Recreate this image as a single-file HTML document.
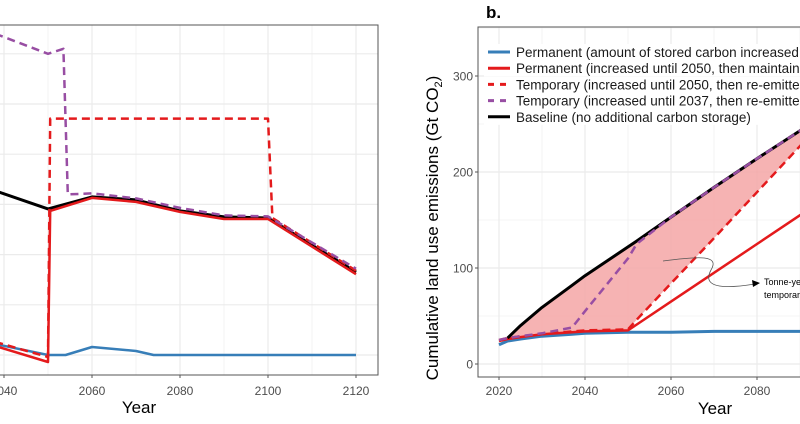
<!DOCTYPE html>
<html><head><meta charset="utf-8"><style>
body{margin:0;background:#fff;width:800px;height:419px;overflow:hidden}
svg{font-family:"Liberation Sans",sans-serif}
</style></head><body>
<svg id="s" width="800" height="419">
<g id="pa"></g>
<g id="pb"></g>
</svg>
<script>
// Panel a data (relative units, gridline spacing = 1)
const aBlueX=[2038,2050,2054,2060,2070,2074,2120];
const aBlueY=[0.22,0,0,0.16,0.08,0,0];
const aRedX=[2038,2050,2050.5,2060,2070,2080,2090,2100,2120];
const aRedY=[0.18,-0.14,2.87,3.13,3.05,2.85,2.71,2.71,1.61];
const aBlackX=[2038,2050,2060,2070,2080,2090,2100,2120];
const aBlackY=[3.27,2.91,3.15,3.09,2.87,2.75,2.73,1.65];
const aRedDX=[2038,2050,2050.5,2100,2101,2120];
const aRedDY=[0.26,-0.04,4.71,4.71,2.73,1.68];
const aPurpX=[2038,2050,2053.5,2054.5,2060,2070,2080,2090,2100,2120];
const aPurpY=[6.4,6.0,6.1,3.2,3.22,3.12,2.93,2.78,2.76,1.72];
const aXTicks=[2040,2060,2080,2100,2120];
// Panel b data (Gt CO2)
const bYears=[2020,2022,2025,2030,2037,2040,2050,2052,2060,2070,2080,2090,2095];
const bBlue=[20,24,26,29,31,32,33,33,33,34,34,34,34];
const bRed=[24,26,28,31,33,34,35,41,65,95,125,155,170];
const bRedD=[25,27,29,31,34,35,36,46,84,131,179,227,251];
const bPurp=[25,27,29,32,38,55,110,125,153,184,214,243,257];
const bBlack=[null,27,40,59,82,92,122,128,153,184,214,243,257];
const bYTicks=[0,100,200,300];
const bXTicks=[2020,2040,2060,2080];
const legendLabels=["Permanent (amount of stored carbon increased","Permanent (increased until 2050, then maintain","Temporary (increased until 2050, then re-emitte","Temporary (increased until 2037, then re-emitte","Baseline (no additional carbon storage)"];

const NS="http://www.w3.org/2000/svg";
function mk(p,t,a){const e=document.createElementNS(NS,t);for(const k in a)e.setAttribute(k,a[k]);p.appendChild(e);return e;}
const C={blue:"#377eb8",red:"#e41a1c",purple:"#984ea3",black:"#000"};

// Panel A
const pa=document.getElementById('pa');
const ax=y=>92+(y-2060)*4.4, ay=v=>355-v*50.2;
const aL=-5,aR=378,aT=25,aB=375;
mk(pa,'rect',{x:aL,y:aT,width:aR-aL,height:aB-aT,fill:'#fff'});
for(let yr=2030;yr<=2120;yr+=10){const g=mk(pa,'line',{x1:ax(yr),x2:ax(yr),y1:aT,y2:aB,stroke:'#ebebeb','stroke-width':yr%20==0?1.2:0.6});

}
for(let v=0;v<=6;v++){const g=mk(pa,'line',{x1:aL,x2:aR,y1:ay(v),y2:ay(v),stroke:'#ebebeb','stroke-width':1.2});

}
function lineA(X,Y,col,w,dash,name){const d=X.map((x,i)=>(i?'L':'M')+ax(x).toFixed(1)+','+ay(Y[i]).toFixed(1)).join('');
const p=mk(pa,'path',{d:d,fill:'none',stroke:col,'stroke-width':w,'stroke-dasharray':dash||'none','stroke-linejoin':'round'});

}
lineA(aBlueX,aBlueY,C.blue,2.5,null,'series-a-permanent-increasing');
lineA(aBlackX,aBlackY,C.black,3,null,'series-a-baseline');
lineA(aRedX,aRedY,C.red,2.5,null,'series-a-permanent-2050');
lineA(aRedDX,aRedDY,C.red,2.5,'8,5','series-a-temporary-2050');
lineA(aPurpX,aPurpY,C.purple,2.5,'8,5','series-a-temporary-2037');
mk(pa,'rect',{x:aL,y:aT,width:aR-aL,height:aB-aT,fill:'none',stroke:'#555','stroke-width':1});
aXTicks.forEach(t=>{mk(pa,'line',{x1:ax(t),x2:ax(t),y1:aB,y2:aB+3,stroke:'#555'});
const tx=mk(pa,'text',{x:ax(t),y:395,'text-anchor':'middle','font-size':12,fill:'#4d4d4d'});tx.textContent=t;

});
const aTitle=mk(pa,'text',{x:139,y:413,'text-anchor':'middle','font-size':17,fill:'#000'});aTitle.textContent='Year';



// Panel B
const pb=document.getElementById('pb');
const bx=y=>499+(y-2020)*4.3, by=v=>364-v*0.96;
const bL=478,bR=805,bT=27,bB=377;
mk(pb,'rect',{x:bL,y:bT,width:bR-bL,height:bB-bT,fill:'#fff'});
for(let yr=2020;yr<=2100;yr+=10){const g=mk(pb,'line',{x1:bx(yr),x2:bx(yr),y1:bT,y2:bB,stroke:'#ebebeb','stroke-width':yr%20==0?1.2:0.6});

}
for(let v=0;v<=350;v+=50){const g=mk(pb,'line',{x1:bL,x2:bR,y1:by(v),y2:by(v),stroke:'#ebebeb','stroke-width':v%100==0?1.2:0.6});

}
let topPts=[],botPts=[];
bYears.forEach((y,i)=>{if(bBlack[i]!=null){topPts.push(bx(y)+','+by(bBlack[i]));botPts.unshift(bx(y)+','+by(bRedD[i]));}});
const fillArea=mk(pb,'polygon',{points:topPts.concat(botPts).join(' '),fill:'#f4a6a6','fill-opacity':0.85});


function lineB(V,col,w,dash,name){let d='';let st=true;bYears.forEach((y,i)=>{if(V[i]==null)return;d+=(st?'M':'L')+bx(y).toFixed(1)+','+by(V[i]).toFixed(1);st=false;});
const p=mk(pb,'path',{d:d,fill:'none',stroke:col,'stroke-width':w,'stroke-dasharray':dash||'none','stroke-linejoin':'round'});

}
lineB(bBlue,C.blue,3,null,'series-b-permanent-increasing');
lineB(bRed,C.red,2.5,null,'series-b-permanent-2050');
lineB(bBlack,C.black,3,null,'series-b-baseline');
lineB(bRedD,C.red,2.5,'8,5','series-b-temporary-2050');
lineB(bPurp,C.purple,2.5,'8,5','series-b-temporary-2037');
const annArrow=mk(pb,'path',{d:'M663,261 C700,256 720,255 711,270 C700,290 730,288 755,284',fill:'none',stroke:'#555','stroke-width':0.8});


mk(pb,'polygon',{points:'760,283 752,280 753,287',fill:'#000'});
const a1=mk(pb,'text',{x:764,y:285,'font-size':9});a1.textContent='Tonne-years';


const a2=mk(pb,'text',{x:764,y:298,'font-size':9});a2.textContent='temporary';


const lg=mk(pb,'g',{});


const lc=[C.blue,C.red,C.red,C.purple,C.black],ld=[null,null,'6,6','6,6',null];
legendLabels.forEach((t,i)=>{const y=52+i*16.2;
mk(lg,'rect',{x:484,y:y-8,width:320,height:16,fill:'#fff'});
mk(lg,'line',{x1:488,x2:510,y1:y,y2:y,stroke:lc[i],'stroke-width':3,'stroke-dasharray':ld[i]||'none'});
const tx=mk(lg,'text',{x:516,y:y+5,'font-size':13.5,fill:'#1a1a1a'});tx.textContent=t;

});
mk(pb,'rect',{x:bL,y:bT,width:bR-bL,height:bB-bT,fill:'none',stroke:'#555','stroke-width':1});
bYTicks.forEach(t=>{mk(pb,'line',{x1:bL-3,x2:bL,y1:by(t),y2:by(t),stroke:'#555'});
const tx=mk(pb,'text',{x:bL-5,y:by(t)+4.5,'text-anchor':'end','font-size':12,fill:'#4d4d4d'});tx.textContent=t;

});
bXTicks.forEach(t=>{mk(pb,'line',{x1:bx(t),x2:bx(t),y1:bB,y2:bB+3,stroke:'#555'});
const tx=mk(pb,'text',{x:bx(t),y:395,'text-anchor':'middle','font-size':12,fill:'#4d4d4d'});tx.textContent=t;

});
const bTitle=mk(pb,'text',{x:715,y:414,'text-anchor':'middle','font-size':17});bTitle.textContent='Year';


const yTitle=mk(pb,'text',{x:0,y:0,transform:'translate(438,228) rotate(-90)','text-anchor':'middle','font-size':17});
yTitle.innerHTML='Cumulative land use emissions (Gt CO<tspan font-size="11" dy="4">2</tspan><tspan dy="-4">)</tspan>';


const panelLabel=mk(pb,'text',{x:486,y:18,'font-size':17,'font-weight':'bold'});panelLabel.textContent='b.';


</script>
</body></html>
